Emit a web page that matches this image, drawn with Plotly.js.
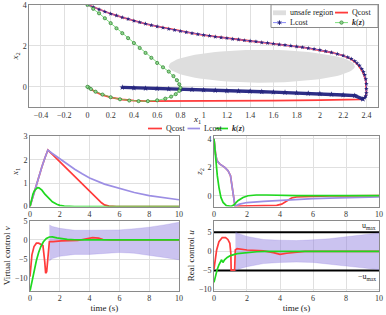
<!DOCTYPE html>
<html><head><meta charset="utf-8">
<script src="https://cdn.plot.ly/plotly-3.0.1.min.js"></script>
<style>html,body{margin:0;padding:0;background:#fff}#chart{width:386px;height:315px}</style>
</head><body><div id="chart"></div>
<script>
// ---------- Top: phase plane (x1, x2) ----------
const unsafeCenter = [1.5, 1.0];
const unsafeRadius = [0.8, 0.8];

const qPhaseX1 = [0,0.1,0.2,0.3,0.4,0.5,0.6,0.7,0.8,0.9,1.0,1.1,1.2,1.3,1.4,1.5,1.6,1.7,1.8,1.9,2.0,2.1,2.2,2.26,2.3,2.33,2.36,2.38,2.395,2.4,2.4,2.395,2.38,2.35,2.3,2.2,2.0,1.6,1.2,0.8,0.6,0.5,0.4,0.3,0.2,0.12,0.06,0.02,0];
const qPhaseX2 = [4,3.77,3.56,3.38,3.22,3.07,2.94,2.82,2.71,2.61,2.52,2.44,2.37,2.3,2.23,2.16,2.1,2.03,1.96,1.88,1.79,1.67,1.52,1.38,1.22,1.05,0.82,0.58,0.3,0.0,-0.25,-0.45,-0.56,-0.61,-0.62,-0.64,-0.65,-0.68,-0.7,-0.71,-0.71,-0.7,-0.68,-0.62,-0.52,-0.38,-0.22,-0.08,0];

const lPhaseX1 = [0,0.05,0.1,0.15,0.2,0.25,0.3,0.35,0.4,0.45,0.5,0.55,0.6,0.65,0.7,0.75,0.8,0.85,0.9,0.95,1.0,1.05,1.1,1.15,1.2,1.25,1.3,1.35,1.4,1.45,1.5,1.55,1.6,1.65,1.7,1.75,1.8,1.85,1.9,1.95,2.0,2.05,2.1,2.15,2.2,2.24,2.27,2.3,2.32,2.34,2.36,2.375,2.385,2.395,2.4,2.4,2.4,2.395,2.385,2.37];
const lPhaseX2 = [4,3.88,3.77,3.66,3.56,3.47,3.38,3.3,3.22,3.14,3.07,3.0,2.94,2.88,2.82,2.76,2.71,2.66,2.61,2.56,2.52,2.48,2.44,2.4,2.37,2.33,2.3,2.26,2.23,2.2,2.16,2.13,2.1,2.06,2.03,2.0,1.96,1.92,1.88,1.84,1.79,1.73,1.67,1.6,1.52,1.44,1.36,1.25,1.15,1.03,0.88,0.73,0.58,0.38,0.15,-0.1,-0.3,-0.45,-0.54,-0.6];
const lReturnX1 = [2.37,2.3,2.2,2.1,2.0,1.9,1.8,1.7,1.6,1.5,1.4,1.3,1.2,1.1,1.0,0.9,0.8,0.7,0.6,0.5,0.4,0.3];
const lReturnX2 = [-0.6,-0.43,-0.4,-0.37,-0.34,-0.32,-0.3,-0.28,-0.26,-0.24,-0.22,-0.21,-0.2,-0.18,-0.16,-0.14,-0.13,-0.11,-0.09,-0.08,-0.06,-0.03];

const kPhaseX1 = [0,0.05,0.1,0.15,0.2,0.25,0.3,0.35,0.4,0.45,0.5,0.55,0.6,0.65,0.7,0.74,0.77,0.79,0.8,0.79,0.76,0.72,0.67,0.6,0.52,0.44,0.36,0.28,0.2,0.13,0.07,0.03,0.01,0];
const kPhaseX2 = [4,3.8,3.58,3.34,3.1,2.85,2.61,2.37,2.13,1.89,1.65,1.41,1.16,0.95,0.74,0.52,0.32,0.12,-0.05,-0.2,-0.36,-0.48,-0.58,-0.66,-0.7,-0.7,-0.67,-0.61,-0.51,-0.38,-0.24,-0.11,-0.03,0];

// ---------- x1(t) ----------
const tQ1 = [0,0.2,0.4,0.6,0.8,1.0,1.2,1.5,2,2.5,3,3.5,4,4.5,4.8,5.0,5.3,5.8,10];
const x1Q = [0,0.45,0.88,1.3,1.7,2.08,2.42,2.23,1.91,1.6,1.28,0.97,0.65,0.34,0.16,0.07,0.015,0,0];
const tL1 = [0,0.2,0.4,0.6,0.8,1.0,1.2,1.5,2,2.5,3,3.5,4,5,6,7,8,9,10];
const x1L = [0,0.45,0.88,1.3,1.7,2.08,2.42,2.27,2.05,1.8,1.6,1.4,1.22,0.96,0.77,0.6,0.47,0.37,0.29];
const tK1 = [0,0.1,0.2,0.3,0.4,0.5,0.6,0.8,1.0,1.2,1.5,1.8,2.0,2.3,2.6,3,10];
const x1K = [0,0.3,0.53,0.68,0.77,0.81,0.8,0.7,0.53,0.38,0.2,0.1,0.05,0.02,0.005,0,0];

// ---------- z2(t) ----------
const tQ2 = [0,0.05,0.1,0.18,0.34,0.65,0.85,1.0,1.11,1.21,1.27,1.5,2,3,3.8,4.1,4.4,4.7,5.0,5.5,6,7,8,10];
const z2Q = [4,3.3,2.9,2.47,2.24,2.0,1.76,1.41,0.59,-0.47,-0.72,-0.73,-0.73,-0.73,-0.68,-0.59,-0.35,-0.16,-0.09,-0.06,-0.04,-0.02,-0.01,0];
const tL2 = [0,0.05,0.1,0.18,0.34,0.65,0.85,1.0,1.11,1.21,1.27,1.55,2,3,4,5,6,7,8,9,10];
const z2L = [4,3.3,2.9,2.47,2.24,2.0,1.76,1.41,0.59,-0.47,-0.72,-0.59,-0.48,-0.4,-0.33,-0.25,-0.2,-0.17,-0.15,-0.12,-0.09];
const tK2 = [0,0.1,0.2,0.3,0.42,0.55,0.75,1.05,1.2,1.45,1.76,2.06,2.56,3.2,4,5,10];
const z2K = [4,2.6,1.41,0.59,-0.12,-0.47,-0.7,-0.75,-0.66,-0.35,-0.12,0,0.05,0.05,0.02,0,0];

// ---------- virtual control v(t) ----------
const tQv = [0,0.13,0.27,0.43,0.58,0.72,0.87,0.99,1.05,1.12,1.21,1.26,1.3,1.55,2.1,3.2,3.9,4.2,4.6,4.9,5.5,10];
const vQ = [-9.6,-3.9,-1.75,-0.87,-0.87,-1.1,-1.5,-5.7,-8.7,-8.3,-4.8,-0.9,-0.44,-0.44,-0.26,-0.17,0.26,0.6,0.44,0.09,0,0];
const tKv = [0,0.13,0.27,0.43,0.58,0.72,0.9,1.1,1.3,1.5,1.8,2.1,2.5,3,3.5,10];
const vK = [-13.4,-10.8,-8.2,-5.4,-3.3,-1.8,-0.5,0.35,0.75,0.78,0.5,0.3,0.12,0.03,0,0];
const tLv = [1.3,1.5,2,3,4,5,6,7,8,9,10];
const vLhi = [3.9,3.5,3.0,2.5,2.5,2.6,2.6,2.9,3.3,3.9,4.6];
const vLlo = [-5.5,-4.9,-4.3,-3.8,-3.8,-3.6,-3.3,-3.5,-4.0,-4.6,-5.2];

// ---------- real control u(t) ----------
const tQu = [0,0.16,0.3,0.5,0.7,0.84,0.96,1.02,1.04,1.25,1.29,1.4,2,3,3.6,4,4.4,5,5.5,10];
const uQ = [-4.65,0.35,2.5,3.6,3.6,3.1,2.1,-0.5,-4.9,-4.9,0.35,0.7,0.35,0.1,-0.35,-0.8,-0.5,-0.17,0,0];
const tKu = [0,0.1,0.2,0.3,0.4,0.46,0.54,0.64,0.8,1.0,1.4,2.0,2.6,3.2,10];
const uK = [-8.1,-6.1,-4.65,-3.5,-2.7,-2.2,-2.9,-2.2,-1.6,-1.1,-0.6,-0.26,-0.1,0,0];
const tLu = [1.3,1.5,2,3,4,5,6,7,8,9,10];
const uLhi = [5.0,4.6,3.9,3.1,2.9,2.8,3.0,3.3,3.8,4.3,4.8];
const uLlo = [-5.0,-4.6,-4.0,-3.2,-2.9,-2.8,-2.9,-3.3,-3.8,-4.3,-4.8];
const uMaxLevels = [5, -5];
const timeSpan = [0, 10];

const seriesNames = ['Qcost', 'Lcost', '<b><i>k</i></b>(<b><i>z</i></b>)'];

// ---------- styles ----------
const RED = '#ff3b3b', PURPLE = '#9c8ee4', GREEN = '#1fd81f';
const BAND = 'rgba(140,122,222,0.45)';
const NAVY = '#25257c', LBLUE = '#6a6af2', KLINE = '#5cd65c', KFILL = '#8fd88f', KEDGE = '#2d7d2d';
const GRAY = '#dedede';
const FONT = 'Liberation Serif, DejaVu Serif, serif';

// unsafe region outline from its centre and radii
const ellX = [], ellY = [];
for (let i = 0; i <= 90; i++) {
  const a = 2 * Math.PI * i / 90;
  ellX.push(unsafeCenter[0] + unsafeRadius[0] * Math.cos(a));
  ellY.push(unsafeCenter[1] + unsafeRadius[1] * Math.sin(a));
}

const traces = [];
// top phase plot
traces.push({x: ellX, y: ellY, xaxis:'x', yaxis:'y', type:'scatter', mode:'lines', fill:'toself',
  fillcolor:GRAY, line:{width:0, color:GRAY}, name:'unsafe region', showlegend:false});
traces.push({x: qPhaseX1, y: qPhaseX2, xaxis:'x', yaxis:'y', type:'scatter', mode:'lines',
  line:{color:RED, width:1.8}, name:seriesNames[0], showlegend:false});
traces.push({x: lPhaseX1, y: lPhaseX2, xaxis:'x', yaxis:'y', type:'scatter', mode:'lines+markers',
  line:{color:LBLUE, width:0.8}, marker:{symbol:'star', size:3.5, color:NAVY, line:{width:0}},
  name:seriesNames[1], showlegend:false});
traces.push({x: lReturnX1, y: lReturnX2, xaxis:'x', yaxis:'y', type:'scatter', mode:'lines+markers',
  line:{color:'#2e2e86', width:3.4}, marker:{symbol:'star', size:4.5, color:NAVY, line:{width:0}},
  name:seriesNames[1], showlegend:false});
traces.push({x: kPhaseX1, y: kPhaseX2, xaxis:'x', yaxis:'y', type:'scatter', mode:'lines+markers',
  line:{color:KLINE, width:0.8}, marker:{symbol:'circle', size:3.2, color:KFILL, line:{color:KEDGE, width:0.7}},
  name:seriesNames[2], showlegend:false});

// x1(t)
traces.push({x:tQ1, y:x1Q, xaxis:'x2', yaxis:'y2', mode:'lines', line:{color:RED, width:1.7}, name:seriesNames[0], showlegend:false});
traces.push({x:tL1, y:x1L, xaxis:'x2', yaxis:'y2', mode:'lines', line:{color:PURPLE, width:1.7}, name:seriesNames[1], showlegend:false});
traces.push({x:tK1, y:x1K, xaxis:'x2', yaxis:'y2', mode:'lines', line:{color:GREEN, width:1.7}, name:seriesNames[2], showlegend:false});
// z2(t)
traces.push({x:tQ2, y:z2Q, xaxis:'x3', yaxis:'y3', mode:'lines', line:{color:RED, width:1.7}, showlegend:false});
traces.push({x:tL2, y:z2L, xaxis:'x3', yaxis:'y3', mode:'lines', line:{color:PURPLE, width:1.7}, showlegend:false});
traces.push({x:tK2, y:z2K, xaxis:'x3', yaxis:'y3', mode:'lines', line:{color:GREEN, width:1.7}, showlegend:false});
// v(t)
traces.push({x:tLv, y:vLlo, xaxis:'x4', yaxis:'y4', mode:'lines', line:{color:BAND, width:0.5}, showlegend:false});
traces.push({x:tLv, y:vLhi, xaxis:'x4', yaxis:'y4', mode:'lines', fill:'tonexty', fillcolor:BAND, line:{color:BAND, width:0.5}, showlegend:false});
traces.push({x:tQv, y:vQ, xaxis:'x4', yaxis:'y4', mode:'lines', line:{color:RED, width:1.7}, showlegend:false});
traces.push({x:tKv, y:vK, xaxis:'x4', yaxis:'y4', mode:'lines', line:{color:GREEN, width:1.7}, showlegend:false});
// u(t)
traces.push({x:timeSpan, y:[uMaxLevels[0], uMaxLevels[0]], xaxis:'x5', yaxis:'y5', mode:'lines', line:{color:'#000', width:2}, showlegend:false});
traces.push({x:timeSpan, y:[uMaxLevels[1], uMaxLevels[1]], xaxis:'x5', yaxis:'y5', mode:'lines', line:{color:'#000', width:2}, showlegend:false});
traces.push({x:tLu, y:uLlo, xaxis:'x5', yaxis:'y5', mode:'lines', line:{color:BAND, width:0.5}, showlegend:false});
traces.push({x:tLu, y:uLhi, xaxis:'x5', yaxis:'y5', mode:'lines', fill:'tonexty', fillcolor:BAND, line:{color:BAND, width:0.5}, showlegend:false});
traces.push({x:tQu, y:uQ, xaxis:'x5', yaxis:'y5', mode:'lines', line:{color:RED, width:1.7}, showlegend:false});
traces.push({x:tKu, y:uK, xaxis:'x5', yaxis:'y5', mode:'lines', line:{color:GREEN, width:1.7}, showlegend:false});

function ax(extra) {
  return Object.assign({showline:true, mirror:true, linecolor:'#8a8a8a', linewidth:1,
    showgrid:true, gridcolor:'#e0e0e0', gridwidth:1, zeroline:false, ticks:'',
    tickfont:{size:8, color:'#333'}, fixedrange:true, automargin:false}, extra);
}
const tfont = {size:9, color:'#222'};
const LX = [0.0777, 0.4637], RX = [0.5544, 0.9819];
const UY = [0.3444, 0.5667], DY = [0.0768, 0.2994];

// ---------- legends (pgfplots style, drawn in figure pixels) ----------
const W = 386, H = 315;
const px = v => v / W, py = v => 1 - v / H;
const shapes = [];
const annotations = [];
function legLine(x0, x1, y, color, w) {
  shapes.push({type:'line', xref:'paper', yref:'paper', x0:px(x0), x1:px(x1), y0:py(y), y1:py(y), line:{color:color, width:w}});
}
function legText(x, y, text) {
  annotations.push({xref:'paper', yref:'paper', x:px(x), y:py(y), xanchor:'left', yanchor:'middle', showarrow:false,
    text:text, font:{size:8, family:FONT, color:'#222'}});
}
function legStar(cx, cy, r, color) {
  const d = [];
  for (let k = 0; k < 3; k++) {
    const a = Math.PI / 2 + k * Math.PI / 3;
    d.push('M' + px(cx - r * Math.cos(a)) + ',' + py(cy - r * Math.sin(a)) + 'L' + px(cx + r * Math.cos(a)) + ',' + py(cy + r * Math.sin(a)));
  }
  shapes.push({type:'path', xref:'paper', yref:'paper', path:d.join(''), line:{color:color, width:1}});
}
// top legend box
shapes.push({type:'rect', xref:'paper', yref:'paper', x0:px(271), x1:px(378), y0:py(27.5), y1:py(4.7),
  line:{color:'#8a8a8a', width:1}, fillcolor:'#fff'});
shapes.push({type:'rect', xref:'paper', yref:'paper', x0:px(273), x1:px(286), y0:py(15.2), y1:py(10.4),
  line:{width:0}, fillcolor:GRAY});
legText(287.5, 12.6, 'unsafe region');
legLine(335, 348, 12.6, RED, 1.8);
legText(349.5, 12.6, seriesNames[0]);
legLine(273, 286, 22.6, LBLUE, 0.8);
legStar(279.5, 22.6, 2.2, NAVY);
legText(287.5, 22.6, seriesNames[1]);
legLine(335, 348, 22.6, KLINE, 0.8);
shapes.push({type:'circle', xref:'paper', yref:'paper', x0:px(339.8), x1:px(343.2), y0:py(24.3), y1:py(20.9),
  line:{color:KEDGE, width:0.7}, fillcolor:KFILL});
legText(349.5, 22.6, seriesNames[2]);
// bottom legend
legLine(148, 162, 128.5, RED, 1.7);
legText(163.5, 128.5, seriesNames[0]);
legLine(187.5, 200, 128.5, PURPLE, 1.7);
legText(201.5, 128.5, seriesNames[1]);
legLine(215.5, 228, 128.5, GREEN, 1.7);
legText(229.5, 128.5, seriesNames[2]);
// top x-axis title
annotations.push({xref:'paper', yref:'paper', x:px(196.5), y:py(119), xanchor:'center', yanchor:'middle', showarrow:false,
  text:'<i>x</i><sub>1</sub>', font:tfont});
// u_max labels
annotations.push({xref:'x5', yref:'y5', x:10, y:uMaxLevels[0], yshift:6, xanchor:'right', xshift:-1, showarrow:false,
  text:'u<sub>max</sub>', font:{size:8, family:FONT, color:'#222'}});
annotations.push({xref:'x5', yref:'y5', x:10, y:uMaxLevels[1], yshift:-7, xanchor:'right', xshift:-1, showarrow:false,
  text:'−u<sub>max</sub>', font:{size:8, family:FONT, color:'#222'}});

const layout = {
  width:W, height:H, margin:{l:0, r:0, t:0, b:0},
  paper_bgcolor:'#fff', plot_bgcolor:'#fff', showlegend:false,
  font:{family:FONT, size:8, color:'#222'}, hovermode:false,
  xaxis: ax({domain:[0.0759,0.9793], range:[-0.5,2.5], dtick:0.2, tick0:0, anchor:'y'}),
  yaxis: ax({domain:[0.6594,0.9851], range:[-1,4], dtick:2, tick0:0, anchor:'x',
    title:{text:'<i>x</i><sub>2</sub>', font:tfont, standoff:2}}),
  xaxis2: ax({domain:LX, range:[0,10], dtick:2, anchor:'y2'}),
  yaxis2: ax({domain:UY, range:[0,3], dtick:1, anchor:'x2', title:{text:'<i>x</i><sub>1</sub>', font:tfont, standoff:3}}),
  xaxis3: ax({domain:RX, range:[0,10], dtick:2, anchor:'y3'}),
  yaxis3: ax({domain:UY, range:[-0.76,4.17], dtick:2, tick0:0, anchor:'x3', title:{text:'<i>z</i><sub>2</sub>', font:tfont, standoff:3}}),
  xaxis4: ax({domain:LX, range:[0,10], dtick:2, anchor:'y4', title:{text:'time (s)', font:tfont, standoff:2}}),
  yaxis4: ax({domain:DY, range:[-13.3,5], dtick:5, tick0:0, anchor:'x4', title:{text:'Virtual control <i>v</i>', font:tfont, standoff:2}}),
  xaxis5: ax({domain:RX, range:[0,10], dtick:2, anchor:'y5', title:{text:'time (s)', font:tfont, standoff:2}}),
  yaxis5: ax({domain:DY, range:[-10.3,8], dtick:5, tick0:0, anchor:'x5', title:{text:'Real control <i>u</i>', font:tfont, standoff:2}}),
  shapes: shapes,
  annotations: annotations
};
Plotly.newPlot('chart', traces, layout, {staticPlot:true, displayModeBar:false});
</script></body></html>
